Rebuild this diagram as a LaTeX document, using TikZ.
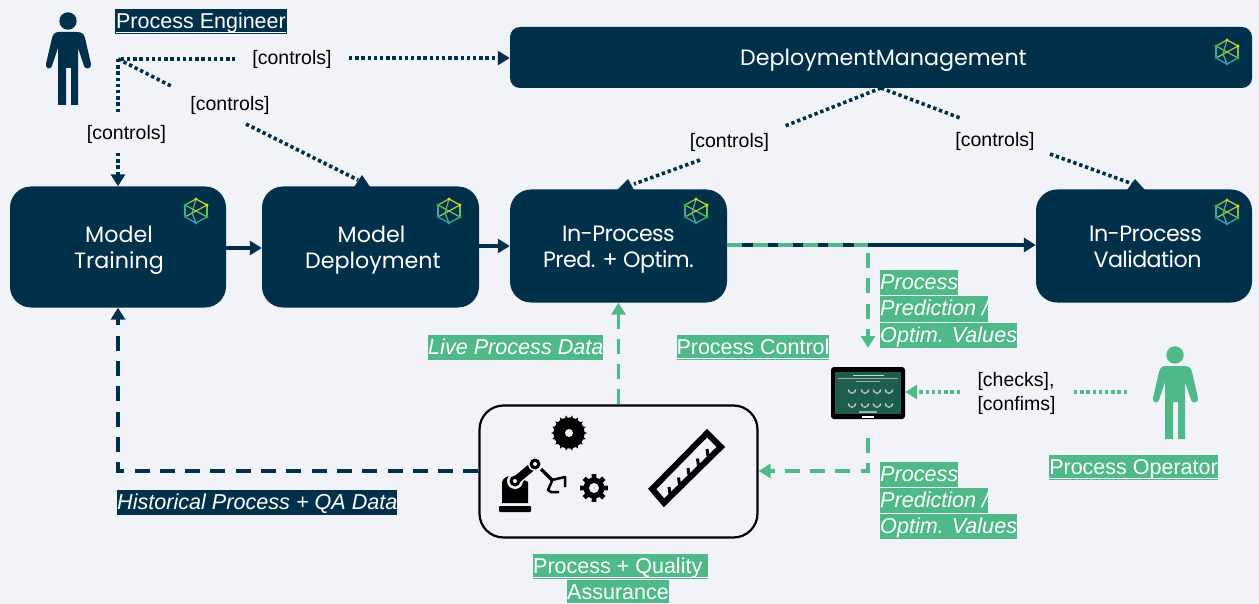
\documentclass[tikz,border=0pt]{standalone}
\usepackage{fontspec}
\setmainfont{Liberation Sans}
\newfontfamily\poppinsf{Poppins}
\usetikzlibrary{arrows.meta,calc}
\definecolor{navy}{HTML}{00304A}
\definecolor{mint}{HTML}{4FB98A}
\definecolor{paper}{HTML}{F2F3F9}
\definecolor{tabscreen}{HTML}{1F5D50}
\definecolor{tabink}{HTML}{C4DAD2}
\newcommand{\dn}{\rule{0pt}{22.5pt}}
\newcommand{\deepen}{\rule[-6pt]{0pt}{6pt}}
\newcommand{\tight}[1]{{\addfontfeature{LetterSpace=-2.5}#1}}
\newsavebox\ulbox
\newcommand{\ul}[1]{\sbox\ulbox{#1}\usebox\ulbox\llap{\rule[-4.6pt]{\wd\ulbox}{1.5pt}}}
\tikzset{
 tipn/.style={-{Triangle[width=14pt,length=12pt]}},
 boxn/.style={fill=navy,text=white,rounded corners=21pt,inner sep=0pt,align=center,
   font=\poppinsf\fontsize{22.2}{26}\selectfont},
 ctl/.style={font=\fontsize{19.5}{23.5}\selectfont,text=black,inner sep=0pt,align=left},
 role/.style={font=\fontsize{21.5}{24}\selectfont,text=white,inner sep=0pt,text height=19.5pt,text depth=5.5pt},
 ital/.style={font=\itshape\fontsize{21.6}{24}\selectfont,text=white,inner sep=0pt,text height=19.5pt,text depth=5.5pt,anchor=west},
 dotn/.style={draw=navy,line width=3.6pt,dash pattern=on 3.4pt off 2.8pt},
 dotm/.style={draw=mint,line width=3.6pt,dash pattern=on 3.4pt off 2.8pt},
 dashn/.style={draw=navy,line width=3.2pt,dash pattern=on 15pt off 10.3pt},
 dashm/.style={draw=mint,line width=3.4pt,dash pattern=on 15pt off 10.3pt},
 solidn/.style={draw=navy,line width=3.2pt},
}
\newcommand{\personicon}[3]{%
 \begin{scope}[shift={(#1,#2)}]
 \fill[#3] (68,21) circle (8.7);
 \fill[#3] (59,32) -- (77,32) .. controls (82,32) and (84,34) .. (85,38) -- (91,64)
   .. controls (92,69) and (85,70) .. (84,66) -- (78,48) -- (78,105) -- (71,105) -- (71,68) -- (66,68) -- (66,105) -- (58,105)
   -- (58,48) -- (52,66) .. controls (51,70) and (45,69) .. (46,64) -- (52,38) .. controls (53,34) and (55,32) .. (59,32) -- cycle;
 \end{scope}}
\newcommand{\cubelogo}[2]{%
 \begin{scope}[shift={(#1,#2)},line width=1.2pt]
 \coordinate (t) at (0,-12); \coordinate (tr) at (11,-6); \coordinate (br) at (11,6);
 \coordinate (b) at (0,12); \coordinate (bl) at (-11,6); \coordinate (tl) at (-11,-6); \coordinate (m) at (1,1);
 \draw[color={rgb,255:red,160;green,200;blue,60}] (tl)--(t);
 \draw[color={rgb,255:red,205;green,215;blue,50}] (t)--(tr);
 \draw[color={rgb,255:red,120;green,190;blue,90}] (tr)--(br);
 \draw[color={rgb,255:red,70;green,175;blue,140}] (br)--(b);
 \draw[color={rgb,255:red,50;green,165;blue,190}] (b)--(bl);
 \draw[color={rgb,255:red,60;green,175;blue,150}] (bl)--(tl);
 \draw[color={rgb,255:red,130;green,190;blue,90}] (tl)--(br);
 \draw[color={rgb,255:red,170;green,205;blue,60}] (tr)--(bl);
 \draw[color={rgb,255:red,90;green,180;blue,120}] (t)--(-4,2)--(b);
 \foreach \p/\c in {t/yellow!80!green,tr/yellow!85!green,br/green!60!teal,b/cyan!60!teal,bl/cyan!60!blue!80!green,tl/green!60!teal}
   \fill[\c] (\p) circle (1.6);
 \end{scope}}
\begin{document}
\begin{tikzpicture}[x=1pt,y=-1pt]
\fill[paper] (0,0) rectangle (1259,604);
\useasboundingbox (0,0) rectangle (1259,604);

% boxes
\node[boxn,minimum width=216pt,minimum height=121pt] (train) at (118,247) {\dn\hspace*{2pt}Model\\\hspace*{2pt}Training};
\node[boxn,minimum width=217pt,minimum height=121pt] (deploy) at (370.5,247) {\dn\hspace*{2pt}Model\\\hspace*{5pt}Deployment};
\node[boxn,minimum width=217pt,minimum height=113pt] (pred) at (618.5,246) {\dn\tight{In-Process}\\\tight{Pred. + Optim.}};
\node[boxn,minimum width=216pt,minimum height=113pt] (valid) at (1144,246) {\dn\hspace*{3pt}\tight{In-Process}\\\hspace*{7pt}\tight{Validation}\deepen};
\node[boxn,minimum width=742pt,minimum height=61pt,rounded corners=10pt] (mgmt) at (881,57.5) {\dn\hspace*{5pt}DeploymentManagement};
\cubelogo{196}{211}\cubelogo{449}{211}\cubelogo{696}{211}\cubelogo{1227}{212}\cubelogo{1227}{52}

\node[draw=black,line width=2.2pt,rounded corners=24pt,minimum width=278pt,minimum height=132pt,inner sep=0pt] (proc) at (618.5,471.5) {};

% people
\personicon{0}{0}{navy}
\personicon{1107}{334}{mint}

% tablet
\node[fill=black,rounded corners=3pt,minimum width=74pt,minimum height=52pt,inner sep=0pt] (tablet) at (868,393) {};
\fill[tabscreen] (835,372) rectangle (901,414);
\fill[tabink] (853,375) rectangle (884,376);
\fill[tabink!70!tabscreen] (838,377.5) rectangle (898,378);
\fill[tabink!70!tabscreen] (856,381) rectangle (880,382);
\foreach \x in {852,865,877,889}\foreach \y in {388,402}{
  \draw[tabink,line width=1.3pt] (\x-3.7,\y+1.5) arc[start angle=180,end angle=0,radius=3.7];
  \fill[tabink!70!tabscreen] (\x-3,\y+4) rectangle (\x+3,\y+5);}
\fill[tabink!70!tabscreen] (859,411) rectangle (877,412.5);
\fill[white] (862,415.5) rectangle (874,417.5);

% labels
\node[fill=navy,role,minimum width=172pt] (pe) at (201,21.5) {\ul{Process Engineer}};
\node[ctl] (c1) at (292,59) {[controls]};
\node[ctl] (c2) at (230,105) {[controls]};
\node[ctl] (c3) at (126.5,134) {[controls]};
\node[ctl] (c4) at (729.5,142) {[controls]};
\node[ctl] (c5) at (995,141) {[controls]};
\node[ctl] (ck) at (1016.5,393.5) {[checks],\\{[confims]}};
\node[fill=mint,ital] (lpd) at (428,347.5) {Live Process Data};
\node[fill=mint,role] (pctl) at (753,347.5) {\ul{Process Control}};
\node[fill=mint,ital] (a1) at (880,283) {Process};
\node[fill=mint,ital] (a2) at (880,309) {Prediction /};
\node[fill=mint,ital] (a3) at (880,335) {Optim. Values};
\node[fill=mint,ital] (b1) at (880,474) {Process};
\node[fill=mint,ital] (b2) at (880,500) {Prediction /};
\node[fill=mint,ital] (b3) at (880,526) {Optim. Values};
\node[fill=navy,ital] (hist) at (117,502) {Historical Process + QA Data};
\node[fill=mint,role] (po) at (1133.5,467.5) {\ul{Process Operator}};
\node[fill=mint,role,anchor=west] (pq1) at (533,566.5) {\ul{Process + Quality\ }};
\node[fill=mint,role] (pq2) at (618,592.5) {\ul{Assurance}};

% coordinates
\coordinate (hub) at (118,59);
\coordinate (h1) at (235,59);
\coordinate (h2) at (349,58);
\coordinate (v1) at (118,112);
\coordinate (v2) at (118,153);
\coordinate (d1) at (173,87);
\coordinate (d2) at (246,124);
\coordinate (d3) at (358,180);
\coordinate (m0) at (881,88);
\coordinate (m1) at (785,126);
\coordinate (m2) at (700,160);
\coordinate (m3) at (634,184);
\coordinate (n1) at (960,118);
\coordinate (n2) at (1050,154);
\coordinate (n3) at (1133,184);
\coordinate (tap) at (868,245);
\coordinate (gd) at (868,253);
\coordinate (ga) at (868,348);
\coordinate (tb) at (868,438);
\coordinate (te) at (868,471);
\coordinate (op1) at (1127,392);
\coordinate (op2) at (1073,392);
\coordinate (op3) at (960,392);
\coordinate (hc) at (118,471);

% dotted navy connectors
\draw[dotn] (v1) -- (hub) -- (h1);
\draw[dotn,tipn] (h2) -- (h2 -| mgmt.west);
\draw[dotn] (hub) -- (d1);
\draw[dotn] (d2) -- (d3);
\draw[dotn,tipn] (v2) -- (train.north);
\draw[dotn] (m0) -- (m1);
\draw[dotn] (m2) -- (m3);
\draw[dotn] (m0) -- (n1);
\draw[dotn] (n2) -- (n3);
\fill[navy] (362,175) -- (370,187) -- (354,187) -- cycle;
\fill[navy] (628,179) -- (634,190) -- (617,190) -- cycle;
\fill[navy] (1135,179) -- (1145,190) -- (1127,190) -- cycle;

% flows
\draw[solidn,tipn] (train.east |- 0,248) -- (deploy.west |- 0,248);
\draw[solidn,tipn] (deploy.east |- 0,246) -- (pred.west |- 0,246);
\draw[solidn,tipn] (pred.east |- tap) -- (valid.west |- tap);
\draw[dashm] (pred.east |- tap) -- (tap);
\draw[dashm,tipn] (gd) -- (ga);
\draw[dashm,tipn] (tb) -- (te) -- (proc.east |- te);
\draw[dashm,tipn] (proc.north) -- (pred.south);
\draw[dashn,tipn] (proc.west |- hc) -- (hc) -- (train.south);
\draw[dotm] (op1) -- (op2);
\draw[dotm,tipn] (op3) -- (tablet.east |- op3);

% icons in process box
\begin{scope}[shift={(569,433)}]
 \fill[black] (0,0) circle (15.5);
 \foreach \a in {0,20,...,340} \fill[black] (\a-5:15) -- (\a:18) -- (\a+5:15) -- cycle;
 \fill[paper] (0,0) circle (4);
\end{scope}
\begin{scope}[shift={(594,488)}]
 \fill[black] (0,0) circle (10.5);
 \foreach \a in {0,45,...,315} \fill[black] (\a-14:10) -- (\a-10:14) -- (\a+10:14) -- (\a+14:10) -- cycle;
 \fill[paper] (0,0) circle (5);
\end{scope}
\begin{scope}[black]
 \fill[rounded corners=1pt] (499,506) rectangle (531,512);
 \fill (502,503) -- (502,482) .. controls (503,478) and (508,475) .. (515,475) -- (528,482) -- (528,503) -- cycle;
 \fill[paper] (515,481) circle (8);
 \draw[paper,line width=11pt] (515,481) -- (533,466);
 \fill (515,481) circle (5.5);
 \draw[black,line width=8pt] (515,481) -- (533,466);
 \fill[paper] (515,481) circle (2);
 \fill[paper] (535,464) circle (7);
 \fill (535,464) circle (5.5); \fill[paper] (535,464) circle (2);
 \draw[line width=3.5pt] (541,469) -- (553,481);
 \draw[line width=2.5pt,line join=round] (552,480) -- (565,477) -- (565,487);
 \draw[line width=2.5pt,line join=round] (552,481) -- (548,490) -- (551,492) -- (559,492);
\end{scope}
\draw[black,line width=6pt,line join=miter] (707,433.2) -- (720.8,447) -- (664,502.8) -- (652.2,489) -- cycle;
\foreach \a/\b in {669/487,678.5/477.5,688/468,697.5/458.5,707/449}
 \draw[black,line width=3pt] (\a,\b) -- ++(1,7);
\end{tikzpicture}
\end{document}
